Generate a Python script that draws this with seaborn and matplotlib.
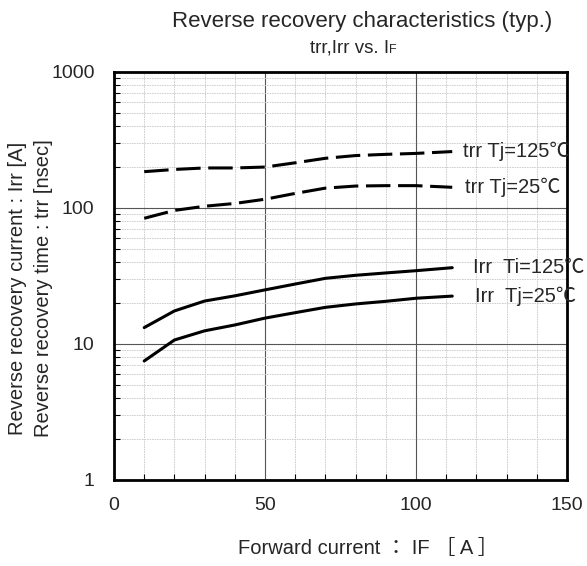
import matplotlib
matplotlib.use("Agg")
import matplotlib.pyplot as plt
import seaborn as sns
import pandas as pd
import numpy as np
from matplotlib.ticker import MultipleLocator, LogLocator, NullFormatter, FixedLocator

# ---- data ----
IF = [10, 20, 30, 40, 50, 60, 70, 80, 90, 100, 112]
trr_125 = [185, 192, 197, 197, 200, 215, 232, 243, 248, 252, 260]
trr_25 = [84, 96, 103, 108, 116, 128, 140, 145, 146, 146, 142]
irr_125 = [13.2, 17.5, 20.7, 22.6, 25.0, 27.6, 30.4, 32.0, 33.3, 34.6, 36.4]
irr_25 = [7.5, 10.7, 12.5, 13.8, 15.5, 17.0, 18.6, 19.7, 20.6, 21.7, 22.5]
labels = ["trr Tj=125\u2103", "trr Tj=25\u2103", "Irr  Ti=125\u2103", "Irr  Tj=25\u2103"]
x_ticks = [0, 50, 100, 150]
y_ticks = [1, 10, 100, 1000]

sns.set_theme(style="white")
plt.rcParams['font.family'] = ['Liberation Sans', 'Noto Sans CJK JP', 'DejaVu Sans']

fig = plt.figure(figsize=(5.87, 5.66), dpi=100)
ax = fig.add_axes([114/587, 1-480/566, (567-114)/587, (480-72)/566])

df = pd.DataFrame({"IF": IF * 4,
                   "val": trr_125 + trr_25 + irr_125 + irr_25,
                   "series": sum([[l]*len(IF) for l in labels], [])})

for lab, dashed in zip(labels, [True, True, False, False]):
    sub = df[df.series == lab]
    sns.lineplot(data=sub, x="IF", y="val", ax=ax, color="black", linewidth=2.2,
                 legend=False, estimator=None, sort=False)
    ln = ax.lines[-1]
    ln.set_solid_joinstyle("round")
    ln.set_dash_joinstyle("round")
    if dashed:
        ln.set_dashes([8, 2.5])

ax.set_yscale("log")
ax.set_xlim(0, 150)
ax.set_ylim(1, 1000)
ax.xaxis.set_major_locator(FixedLocator(x_ticks))
ax.xaxis.set_minor_locator(MultipleLocator(10))
ax.yaxis.set_major_locator(FixedLocator(y_ticks))
ax.yaxis.set_minor_locator(LogLocator(base=10, subs=np.arange(2, 10)))
ax.yaxis.set_minor_formatter(NullFormatter())
ax.set_xticklabels([str(v) for v in x_ticks])
ax.set_yticklabels([str(v) for v in y_ticks])

ax.grid(which="major", color="#555555", linewidth=0.8, linestyle="-")
ax.grid(which="minor", color="#c8c8c8", linewidth=0.6, linestyle=(0, (2, 1)))
ax.set_axisbelow(True)

for s in ax.spines.values():
    s.set_color("black")
    s.set_linewidth(2)

ax.tick_params(which="both", direction="in", bottom=True, left=True, color="black")
ax.tick_params(which="major", length=0, labelsize=14)
ax.tick_params(axis="y", which="major", pad=14)
ax.tick_params(axis="x", which="major", pad=12)
ax.tick_params(which="minor", length=4, width=0.8)

ax.set_xlabel("")
ax.set_ylabel("")

# annotations at line ends
ann_vals = [trr_125[-1], trr_25[-1], irr_125[-1], irr_25[-1]]
ann_dx = [3.6, 4.2, 6.9, 7.5]
for lab, v, dx in zip(labels, ann_vals, ann_dx):
    ax.text(IF[-1] + dx, v, lab, fontsize=14.5, va="center", ha="left", clip_on=False, zorder=5)

fig.text(362/587, 1-22/566, "Reverse recovery characteristics (typ.)", ha="center", va="center", fontsize=16)
fig.text(389/587, 1-48/566, "trr,Irr vs. I", ha="right", va="center", fontsize=13.5)
fig.text(389/587, 1-50/566, "F", ha="left", va="center", fontsize=9)
fig.text(368/587, 1-548/566, "Forward current \uff1a IF \uff3b A \uff3d", ha="center", va="center", fontsize=14.5)
fig.text(18/587, 1-288/566, "Reverse recovery current : Irr [A]", rotation=90, ha="center", va="center", fontsize=14.5)
fig.text(44/587, 1-288/566, "Reverse recovery time : trr [nsec]", rotation=90, ha="center", va="center", fontsize=14.5)

fig.savefig("out.png", dpi=100)
